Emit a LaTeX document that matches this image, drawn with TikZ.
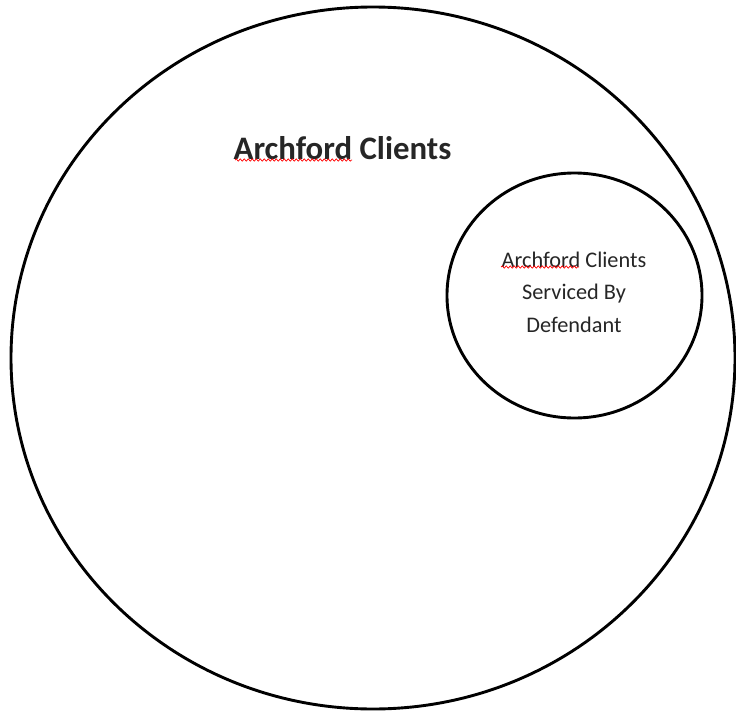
\documentclass[tikz,border=0pt]{standalone}
\usepackage{fontspec}
\setmainfont{Carlito}
\usetikzlibrary{decorations.pathmorphing}
\tikzset{
  ring/.style={draw=black, line width=2.9pt},
  squig/.style={draw=red, line width=0.7pt, decorate, decoration={snake, amplitude=1.1pt, segment length=4pt}},
  label/.style={inner sep=0pt, outer sep=0pt, align=center, text=black!85}
}
\begin{document}
\begin{tikzpicture}[x=1pt,y=-1pt]
\useasboundingbox (0,0) rectangle (736,712);
\draw[ring] (373,358) ellipse [x radius=362, y radius=351];
\draw[ring] (574.5,295.5) ellipse [x radius=127.5, y radius=122.5];
\node[label, font=\bfseries\fontsize{32.8}{38}\selectfont] (title) at (342.5,148) {Archford Clients};
\node[label, font=\fontsize{22.3}{32.5}\selectfont] (inner) at (574,292) {Archford Clients\\Serviced By\\Defendant};
\draw[squig] (235,160) -- (352,160);
\draw[squig] (501,267) -- (579,267);
\end{tikzpicture}
\end{document}
